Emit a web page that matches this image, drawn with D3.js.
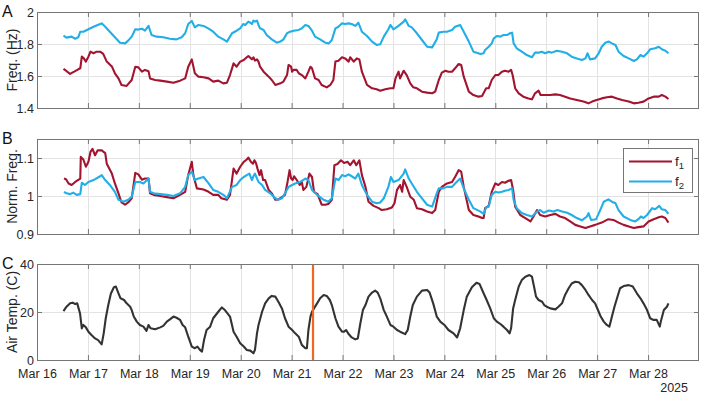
<!DOCTYPE html>
<html>
<head>
<meta charset="utf-8">
<script src="https://cdn.jsdelivr.net/npm/d3@7"></script>
<style>
body { margin: 0; background: #fff; }
svg { font-family: "Liberation Sans", Arial, sans-serif; display: block; }
</style>
</head>
<body>
<svg id="chart" width="702" height="394"></svg>
<script>
////////////////////////////////////////////////////////////
//////////////////////// Data //////////////////////////////
////////////////////////////////////////////////////////////

// time is day of March 2025 (fractional)
var f1Hz = [
 [16.52,1.644],[16.57,1.633],[16.65,1.613],[16.73,1.627],[16.81,1.642],[16.85,1.648],[16.88,1.721],[16.92,1.71],[16.96,1.69],[17.01,1.721],[17.05,1.752],[17.11,1.742],[17.17,1.752],[17.24,1.752],[17.30,1.738],[17.37,1.69],[17.47,1.66],[17.53,1.617],[17.60,1.585],[17.66,1.544],[17.76,1.538],[17.86,1.575],[17.93,1.658],[17.99,1.654],[18.06,1.627],[18.12,1.638],[18.19,1.63],[18.22,1.585],[18.32,1.575],[18.42,1.571],[18.55,1.565],[18.68,1.558],[18.81,1.571],[18.91,1.585],[18.97,1.658],[19.04,1.704],[19.10,1.617],[19.17,1.596],[19.27,1.592],[19.37,1.585],[19.46,1.565],[19.56,1.571],[19.66,1.554],[19.73,1.558],[19.79,1.606],[19.86,1.679],[19.92,1.658],[19.99,1.69],
 [20.06,1.70],[20.12,1.717],[20.15,1.725],[20.22,1.704],[20.25,1.717],[20.28,1.696],[20.32,1.704],[20.35,1.69],[20.38,1.658],[20.45,1.627],[20.55,1.596],[20.61,1.575],[20.68,1.544],[20.78,1.554],[20.84,1.565],[20.91,1.606],[20.94,1.669],[20.99,1.658],[21.01,1.627],[21.04,1.638],[21.10,1.638],[21.14,1.617],[21.20,1.606],[21.27,1.585],[21.33,1.627],[21.37,1.658],[21.40,1.648],[21.46,1.585],[21.53,1.575],[21.59,1.544],[21.69,1.529],[21.76,1.544],[21.82,1.575],[21.86,1.69],[21.92,1.696],[21.99,1.717],[22.05,1.71],[22.12,1.69],[22.15,1.717],[22.22,1.69],[22.28,1.71],[22.33,1.704],[22.38,1.627],[22.48,1.544],[22.58,1.523],[22.67,1.517],[22.74,1.508],[22.84,1.517],[22.94,1.523],[23.00,1.523],[23.04,1.585],[23.10,1.627],[23.13,1.585],[23.20,1.633],[23.26,1.606],[23.33,1.554],[23.39,1.529],[23.46,1.523],[23.56,1.502],[23.66,1.496],[23.76,1.492],[23.82,1.502],[23.89,1.575],[23.95,1.621],[24.02,1.633],[24.08,1.627],[24.15,1.627],[24.21,1.648],[24.28,1.675],[24.33,1.669],[24.38,1.596],[24.48,1.502],[24.57,1.481],[24.67,1.471],[24.74,1.475],
 [24.82,1.523],[24.87,1.523],[24.93,1.575],[25.00,1.606],[25.06,1.606],[25.13,1.627],[25.19,1.633],[25.26,1.627],[25.31,1.638],[25.34,1.606],[25.39,1.523],[25.46,1.492],[25.55,1.471],[25.65,1.46],[25.72,1.454],[25.78,1.492],[25.85,1.508],[25.89,1.481],[25.98,1.481],[26.08,1.481],[26.18,1.485],[26.27,1.481],[26.37,1.471],[26.47,1.46],[26.60,1.45],[26.73,1.44],[26.83,1.429],[26.90,1.44],[26.99,1.45],[27.09,1.46],[27.19,1.467],[27.29,1.471],[27.39,1.46],[27.49,1.45],[27.62,1.44],[27.72,1.429],[27.81,1.433],[27.91,1.44],[28.01,1.46],[28.11,1.471],[28.21,1.471],[28.27,1.481],[28.34,1.471],[28.40,1.456]
];

var f2Hz = [
 [16.52,1.852],[16.58,1.84],[16.68,1.846],[16.75,1.833],[16.81,1.842],[16.85,1.877],[16.91,1.877],[17.01,1.892],[17.11,1.908],[17.24,1.925],[17.27,1.929],[17.34,1.908],[17.43,1.877],[17.53,1.842],[17.63,1.808],[17.73,1.804],[17.79,1.821],[17.86,1.846],[17.93,1.892],[17.99,1.89],[18.06,1.896],[18.12,1.883],[18.19,1.913],[18.25,1.856],[18.35,1.846],[18.48,1.842],[18.61,1.833],[18.74,1.829],[18.84,1.842],[18.91,1.867],[18.97,1.925],[19.04,1.944],[19.10,1.904],[19.17,1.919],[19.27,1.913],[19.37,1.896],[19.46,1.877],[19.56,1.846],[19.66,1.829],[19.73,1.815],[19.83,1.867],[19.92,1.883],[19.99,1.898],[20.05,1.925],
 [20.09,1.919],[20.15,1.94],[20.19,1.933],[20.22,1.925],[20.25,1.946],[20.28,1.94],[20.32,1.946],[20.35,1.919],[20.38,1.898],[20.45,1.888],[20.51,1.856],[20.61,1.829],[20.71,1.808],[20.78,1.815],[20.84,1.829],[20.91,1.867],[20.97,1.877],[21.04,1.883],[21.14,1.888],[21.20,1.898],[21.27,1.919],[21.33,1.913],[21.40,1.883],[21.46,1.846],[21.56,1.829],[21.66,1.808],[21.73,1.804],[21.79,1.825],[21.86,1.898],[21.92,1.908],[21.99,1.929],[22.05,1.925],[22.12,1.929],[22.18,1.925],[22.25,1.913],[22.31,1.933],[22.38,1.877],[22.48,1.85],[22.58,1.815],[22.67,1.794],[22.74,1.798],[22.81,1.846],[22.90,1.892],[22.94,1.919],[23.00,1.892],[23.10,1.913],[23.20,1.94],[23.23,1.954],[23.30,1.913],[23.36,1.904],[23.46,1.867],[23.56,1.825],[23.66,1.783],[23.76,1.779],[23.85,1.829],[23.89,1.871],[23.98,1.877],[24.05,1.877],[24.15,1.888],[24.21,1.908],[24.31,1.919],[24.38,1.877],[24.48,1.815],[24.57,1.752],[24.71,1.738],
 [24.77,1.742],[24.80,1.763],[24.87,1.783],[24.93,1.804],[24.97,1.835],[25.03,1.85],[25.10,1.846],[25.16,1.856],[25.23,1.856],[25.29,1.867],[25.33,1.871],[25.36,1.804],[25.42,1.773],[25.52,1.752],[25.62,1.731],[25.72,1.717],[25.78,1.746],[25.85,1.746],[25.91,1.752],[25.98,1.742],[26.05,1.752],[26.11,1.746],[26.21,1.758],[26.31,1.752],[26.41,1.742],[26.50,1.721],[26.60,1.71],[26.70,1.70],[26.77,1.71],[26.81,1.742],[26.86,1.704],[26.96,1.71],[27.03,1.742],[27.09,1.783],[27.16,1.808],[27.23,1.815],[27.29,1.804],[27.36,1.794],[27.42,1.752],[27.52,1.725],[27.62,1.71],[27.72,1.694],[27.78,1.704],[27.85,1.731],[27.91,1.721],[27.98,1.742],[28.04,1.767],[28.14,1.773],[28.21,1.783],[28.27,1.767],[28.34,1.758],[28.40,1.742]
];

var f1Norm = [
 [16.53,1.046],[16.57,1.044],[16.62,1.033],[16.68,1.029],[16.75,1.037],[16.85,1.046],[16.86,1.103],[16.91,1.096],[16.96,1.077],[17.01,1.09],[17.05,1.116],[17.09,1.124],[17.14,1.107],[17.19,1.12],[17.27,1.12],[17.34,1.113],[17.37,1.085],[17.47,1.059],[17.53,1.033],[17.60,1.007],[17.66,0.983],[17.73,0.977],[17.79,0.983],[17.86,0.994],[17.93,1.061],[17.99,1.057],[18.06,1.043],[18.12,1.046],[18.19,1.046],[18.22,1.007],[18.29,1.003],[18.42,1.0],[18.55,0.997],[18.68,0.994],[18.81,1.003],[18.91,1.011],[18.97,1.055],[19.04,1.09],[19.07,1.055],[19.14,1.02],[19.27,1.017],[19.37,1.011],[19.46,1.003],[19.56,1.003],[19.62,0.994],[19.73,0.99],[19.79,1.003],[19.86,1.072],[19.92,1.059],[19.99,1.077],
 [20.06,1.09],[20.12,1.096],[20.15,1.101],[20.20,1.09],[20.24,1.085],[20.27,1.094],[20.30,1.087],[20.33,1.072],[20.37,1.055],[20.40,1.068],[20.44,1.042],[20.48,1.042],[20.55,1.016],[20.61,1.007],[20.68,0.99],[20.74,0.991],[20.81,0.997],[20.87,1.003],[20.92,1.037],[20.96,1.068],[20.99,1.046],[21.02,1.042],[21.05,1.052],[21.10,1.042],[21.16,1.029],[21.20,1.037],[21.23,1.016],[21.29,1.024],[21.35,1.059],[21.40,1.05],[21.44,1.011],[21.51,1.005],[21.59,0.977],[21.66,0.977],[21.72,0.979],[21.79,0.99],[21.84,1.081],[21.90,1.084],[21.97,1.094],[22.03,1.087],[22.10,1.09],[22.15,1.081],[22.22,1.094],[22.27,1.081],[22.33,1.094],[22.38,1.055],[22.45,1.024],[22.51,0.985],[22.61,0.974],[22.71,0.968],[22.77,0.963],[22.87,0.965],[22.97,0.97],[23.02,0.981],[23.07,1.016],[23.13,1.029],[23.17,1.011],[23.20,1.042],[23.26,1.024],[23.33,0.998],[23.40,0.99],[23.46,0.968],[23.56,0.965],[23.66,0.959],[23.76,0.955],[23.82,0.963],[23.89,1.011],[23.95,1.024],[24.05,1.033],[24.15,1.037],[24.21,1.05],[24.28,1.068],[24.33,1.064],[24.38,1.024],[24.48,0.963],[24.57,0.95],[24.67,0.946],[24.74,0.942],
 [24.77,0.942],[24.80,0.968],[24.87,0.974],[24.93,1.011],[25.00,1.033],[25.06,1.029],[25.13,1.037],[25.19,1.035],[25.26,1.04],[25.31,1.042],[25.35,1.016],[25.39,0.972],[25.49,0.95],[25.59,0.942],[25.69,0.933],[25.75,0.946],[25.82,0.963],[25.88,0.95],[25.98,0.946],[26.08,0.95],[26.18,0.953],[26.27,0.946],[26.37,0.942],[26.47,0.933],[26.57,0.924],[26.67,0.92],[26.77,0.916],[26.86,0.92],[26.96,0.924],[27.09,0.93],[27.22,0.939],[27.32,0.937],[27.42,0.93],[27.52,0.924],[27.62,0.92],[27.72,0.916],[27.81,0.918],[27.91,0.92],[28.01,0.933],[28.11,0.939],[28.21,0.944],[28.27,0.946],[28.34,0.942],[28.40,0.93]
];

var f2Norm = [
 [16.53,1.011],[16.58,1.007],[16.65,1.005],[16.71,1.009],[16.78,1.003],[16.85,1.005],[16.88,1.035],[16.94,1.029],[17.01,1.037],[17.11,1.042],[17.24,1.052],[17.27,1.055],[17.34,1.042],[17.43,1.029],[17.53,1.011],[17.60,0.99],[17.70,0.985],[17.79,0.99],[17.86,0.998],[17.93,1.037],[18.02,1.037],[18.09,1.033],[18.16,1.042],[18.19,1.046],[18.22,1.011],[18.29,1.007],[18.42,1.005],[18.55,1.003],[18.68,1.0],[18.81,1.007],[18.91,1.024],[18.97,1.055],[19.04,1.064],[19.10,1.042],[19.17,1.046],[19.27,1.05],[19.37,1.033],[19.46,1.016],[19.56,1.011],[19.66,1.003],[19.73,0.994],[19.83,1.024],[19.92,1.029],[19.99,1.042],
 [20.06,1.05],[20.12,1.055],[20.17,1.059],[20.22,1.042],[20.25,1.052],[20.28,1.059],[20.32,1.046],[20.35,1.037],[20.42,1.029],[20.48,1.016],[20.58,1.007],[20.68,0.994],[20.74,0.99],[20.81,0.994],[20.87,1.007],[20.94,1.024],[21.01,1.029],[21.07,1.033],[21.17,1.037],[21.27,1.046],[21.33,1.042],[21.40,1.016],[21.50,1.003],[21.63,0.99],[21.72,0.985],[21.79,0.994],[21.86,1.046],[21.92,1.042],[21.99,1.055],[22.05,1.052],[22.12,1.057],[22.18,1.052],[22.25,1.046],[22.31,1.059],[22.38,1.029],[22.48,1.003],[22.58,0.985],[22.67,0.981],[22.74,0.983],[22.81,0.994],[22.90,1.024],[22.95,1.05],[23.00,1.037],[23.10,1.042],[23.20,1.059],[23.23,1.07],[23.30,1.046],[23.36,1.033],[23.46,1.011],[23.56,0.994],[23.66,0.977],[23.76,0.972],[23.85,1.007],[23.89,1.02],[23.98,1.02],[24.05,1.024],[24.15,1.024],[24.21,1.033],[24.31,1.046],[24.38,1.02],[24.48,0.99],[24.57,0.968],[24.71,0.959],
 [24.77,0.953],[24.82,0.97],[24.87,0.972],[24.93,1.003],[25.00,1.011],[25.06,1.009],[25.13,1.011],[25.19,1.014],[25.26,1.016],[25.33,1.02],[25.36,0.99],[25.42,0.968],[25.52,0.955],[25.62,0.95],[25.72,0.946],[25.82,0.959],[25.88,0.963],[25.95,0.956],[26.05,0.962],[26.14,0.959],[26.22,0.963],[26.31,0.959],[26.41,0.956],[26.50,0.95],[26.60,0.942],[26.70,0.936],[26.80,0.946],[26.83,0.955],[26.88,0.937],[26.98,0.939],[27.06,0.963],[27.13,0.985],[27.22,0.991],[27.29,0.985],[27.36,0.981],[27.42,0.963],[27.52,0.946],[27.65,0.937],[27.75,0.933],[27.81,0.939],[27.86,0.946],[27.91,0.942],[27.98,0.95],[28.08,0.968],[28.14,0.965],[28.22,0.974],[28.27,0.965],[28.34,0.963],[28.40,0.953]
];

var airTemp = [
 [16.52,20.4],[16.58,22.2],[16.65,23.6],[16.70,23.9],[16.75,23.3],[16.79,23.6],[16.845,19.4],[16.88,13.2],[16.91,14.6],[16.96,13.6],[17.01,11.8],[17.07,10.4],[17.14,9.0],[17.20,8.3],[17.27,6.5],[17.31,11.1],[17.35,17.4],[17.40,22.9],[17.45,27.6],[17.51,30.3],[17.55,30.6],[17.60,27.8],[17.64,25.7],[17.71,25.0],[17.76,23.6],[17.83,22.2],[17.86,20.8],[17.90,18.1],[17.96,16.0],[18.02,14.6],[18.09,13.9],[18.15,12.1],[18.19,14.6],[18.23,13.2],[18.32,12.8],[18.42,13.6],[18.48,14.2],[18.55,16.0],[18.61,16.9],[18.68,18.1],[18.74,17.6],[18.81,16.7],[18.86,14.6],[18.91,13.6],[18.97,9.7],[19.04,5.6],[19.10,4.9],[19.15,5.6],[19.20,4.2],[19.24,3.5],[19.28,8.3],[19.33,12.5],[19.40,13.9],[19.46,17.4],[19.56,20.1],[19.63,21.9],[19.69,20.8],[19.79,18.1],[19.86,11.8],[19.92,9.7],[19.99,7.0],
 [20.06,5.6],[20.12,4.2],[20.19,3.9],[20.25,2.8],[20.28,4.2],[20.32,11.1],[20.35,14.6],[20.42,20.1],[20.48,23.6],[20.55,25.7],[20.61,26.7],[20.68,26.4],[20.74,24.3],[20.81,21.5],[20.87,17.4],[20.94,13.9],[21.01,12.5],[21.07,11.1],[21.14,9.7],[21.20,6.3],[21.27,4.9],[21.30,4.9],[21.33,12.5],[21.37,18.1],[21.40,20.1],[21.44,21.5],[21.50,23.6],[21.56,25.7],[21.63,27.1],[21.69,26.7],[21.75,25.0],[21.79,22.9],[21.86,17.4],[21.92,13.9],[21.99,11.8],[22.03,11.8],[22.07,12.5],[22.12,10.8],[22.18,9.4],[22.25,8.6],[22.30,9.0],[22.35,15.3],[22.40,20.8],[22.45,22.9],[22.51,26.4],[22.58,28.1],[22.64,28.9],[22.69,28.1],[22.74,25.7],[22.81,20.8],[22.87,18.1],[22.94,14.6],[23.00,13.9],[23.07,12.5],[23.13,11.8],[23.23,10.8],[23.28,12.5],[23.33,18.1],[23.38,22.9],[23.46,26.4],[23.56,28.9],[23.66,29.2],[23.71,28.1],[23.78,23.6],[23.85,18.1],[23.92,16.0],[24.00,14.6],[24.08,12.5],[24.18,11.1],[24.25,9.4],[24.31,13.2],[24.38,20.8],[24.44,26.4],[24.54,30.3],[24.63,32.2],[24.69,31.7],[24.77,27.8],[24.83,25.0],
 [24.90,21.5],[24.97,17.4],[25.03,16.0],[25.10,15.0],[25.16,13.9],[25.23,12.5],[25.28,11.1],[25.31,13.2],[25.35,21.5],[25.39,25.0],[25.46,30.6],[25.52,33.3],[25.59,34.7],[25.67,35.4],[25.72,34.7],[25.76,30.6],[25.80,26.4],[25.85,25.0],[25.92,24.3],[25.96,22.9],[26.01,22.2],[26.08,21.5],[26.18,21.1],[26.24,22.2],[26.31,23.6],[26.37,27.1],[26.44,29.9],[26.50,31.9],[26.57,32.6],[26.64,32.4],[26.70,31.2],[26.77,29.2],[26.83,27.1],[26.90,25.0],[26.96,23.6],[27.03,20.1],[27.07,18.1],[27.13,16.0],[27.19,14.6],[27.24,13.9],[27.29,18.1],[27.34,22.2],[27.39,25.7],[27.45,29.9],[27.52,30.8],[27.62,31.2],[27.70,30.6],[27.78,27.8],[27.85,25.7],[27.91,23.6],[27.98,20.8],[28.04,17.4],[28.10,16.7],[28.17,16.7],[28.23,13.9],[28.25,16.0],[28.31,20.8],[28.37,22.2],[28.40,23.6]
];

var eventDay = 21.42;               // vertical marker in panel C
var xTickDays = d3.range(16, 29);   // Mar 16 ... Mar 28
var yTicksA = [1.4, 1.6, 1.8, 2];
var yTicksB = [0.9, 1, 1.1];
var yTicksC = [0, 20, 40];
var legendNames = ["1", "2"];       // subscripts of f

////////////////////////////////////////////////////////////
//////////////////////// Set-up ////////////////////////////
////////////////////////////////////////////////////////////

var red = "#a2142f",
	blue = "#22aee6",
	dark = "#333333",
	frame = "#767676",
	gridCol = "#e3e3e3",
	textCol = "#262626";

var left = 37, right = 699;

function toDate(d) { return new Date(Date.UTC(2025, 2, 1) + (d - 1) * 864e5); }

var x = d3.scaleUtc()
	.domain([toDate(16), toDate(29)])
	.range([left, right]);

var panels = [
	{letter: "A", top: 12, bottom: 108, domain: [1.4, 2], ticks: yTicksA, label: "Freq. (Hz)",
	 series: [{data: f1Hz, color: red}, {data: f2Hz, color: blue}]},
	{letter: "B", top: 139, bottom: 234, domain: [0.9, 1.15], ticks: yTicksB, label: "Norm. Freq.",
	 series: [{data: f1Norm, color: red}, {data: f2Norm, color: blue}]},
	{letter: "C", top: 264, bottom: 360, domain: [0, 40], ticks: yTicksC, label: "Air Temp. (C)",
	 series: [{data: airTemp, color: dark}]}
];

var svg = d3.select("#chart");
var tickDates = xTickDays.map(toDate);

panels.forEach(function(p, i) {
	var y = d3.scaleLinear().domain(p.domain).range([p.bottom, p.top]);
	var g = svg.append("g");

	//Grid
	g.selectAll(".vgrid").data(tickDates).enter().append("line")
		.attr("x1", function(d) { return Math.round(x(d)) + 0.5; })
		.attr("x2", function(d) { return Math.round(x(d)) + 0.5; })
		.attr("y1", p.top).attr("y2", p.bottom)
		.style("stroke", gridCol);
	g.selectAll(".hgrid").data(p.ticks).enter().append("line")
		.attr("x1", left).attr("x2", right)
		.attr("y1", function(d) { return Math.round(y(d)) + 0.5; })
		.attr("y2", function(d) { return Math.round(y(d)) + 0.5; })
		.style("stroke", gridCol);

	//Series
	var line = d3.line()
		.x(function(d) { return x(toDate(d[0])); })
		.y(function(d) { return y(d[1]); });
	p.series.forEach(function(s) {
		g.append("path")
			.datum(s.data)
			.attr("d", line)
			.style("fill", "none")
			.style("stroke", s.color)
			.style("stroke-width", 2.1)
			.style("stroke-linejoin", "round");
	});

	//Axes (ticks point inward)
	var isLast = i === panels.length - 1;
	var xb = g.append("g").attr("transform", "translate(0," + p.bottom + ")")
		.call(d3.axisBottom(x).tickValues(tickDates).tickSize(-5).tickPadding(9)
			.tickFormat(isLast ? d3.utcFormat("%b %-d") : function() { return ""; }));
	var xt = g.append("g").attr("transform", "translate(0," + p.top + ")")
		.call(d3.axisTop(x).tickValues(tickDates).tickSize(-5).tickFormat(function() { return ""; }));
	var yl = g.append("g").attr("transform", "translate(" + left + ",0)")
		.call(d3.axisLeft(y).tickValues(p.ticks).tickSize(-5).tickPadding(3).tickFormat(d3.format("")));
	var yr = g.append("g").attr("transform", "translate(" + right + ",0)")
		.call(d3.axisRight(y).tickValues(p.ticks).tickSize(-5).tickFormat(function() { return ""; }));
	[xb, xt, yl, yr].forEach(function(a) {
		a.select(".domain").remove();
		a.selectAll("line").style("stroke", frame);
		a.selectAll("text")
			.style("font-family", "'Liberation Sans', Arial, sans-serif")
			.style("font-size", "12.5px")
			.style("fill", textCol);
	});

	//Frame
	g.append("rect")
		.attr("x", left + 0.5).attr("y", p.top + 0.5)
		.attr("width", right - left - 1).attr("height", p.bottom - p.top)
		.style("fill", "none").style("stroke", frame);

	//Panel letter
	svg.append("text")
		.attr("x", 2).attr("y", p.top + 5)
		.style("font-size", "16px").style("fill", "#111")
		.text(p.letter);

	//Y label
	svg.append("text")
		.attr("transform", "translate(17," + (p.top + p.bottom) / 2 + ") rotate(-90)")
		.style("text-anchor", "middle")
		.style("font-size", "14px")
		.style("fill", textCol)
		.text(p.label);

	//Event marker
	if (isLast) {
		g.append("line")
			.attr("x1", x(toDate(eventDay))).attr("x2", x(toDate(eventDay)))
			.attr("y1", p.top + 1).attr("y2", p.bottom)
			.style("stroke", "#f26522")
			.style("stroke-width", 2.2);
	}

	//Legend
	if (p.letter === "B") {
		var lg = g.append("g");
		lg.append("rect")
			.attr("x", 623.5).attr("y", 148.5).attr("width", 69).attr("height", 44)
			.style("fill", "#fff").style("stroke", frame);
		p.series.forEach(function(s, j) {
			var ly = 161.5 + j * 20;
			lg.append("line")
				.attr("x1", 629).attr("x2", 672).attr("y1", ly).attr("y2", ly)
				.style("stroke", s.color).style("stroke-width", 2.1);
			var t = lg.append("text")
				.attr("x", 675).attr("y", ly + 4)
				.style("font-size", "13.5px").style("fill", textCol)
				.text("f");
			t.append("tspan").attr("dy", 3).style("font-size", "9.5px").text(legendNames[j]);
		});
	}
});

//Year label under the date axis
svg.append("text")
	.attr("x", 688).attr("y", 392)
	.style("text-anchor", "end")
	.style("font-size", "12.5px")
	.style("fill", textCol)
	.text("2025");
</script>
</body>
</html>
